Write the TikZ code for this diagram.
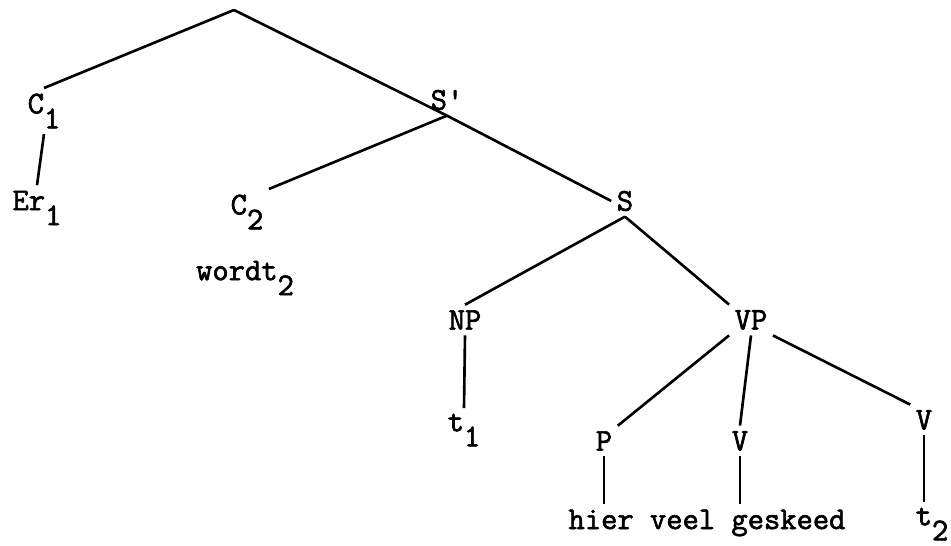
\documentclass[tikz,border=0pt]{standalone}
\usepackage{fontspec}
\usepackage{tikz}
\newfontfamily\treefont[FakeBold=2]{Latin Modern Mono}
\newcommand{\lowsub}[1]{\raisebox{-1.1ex}{#1}}
\tikzset{
  x=0.02cm,
  y=-0.02cm,
}
\tikzstyle{every node}=[font=\treefont\fontsize{18}{20}\selectfont, inner sep=3pt]
\tikzstyle{branch}=[line width=1.5pt]

\begin{document}
\begin{tikzpicture}
    \useasboundingbox (0,0) rectangle (951,546);
    \coordinate (root) at (234,10);
    \node (c1) at (44,111) {C\lowsub{1}};
    \node (er1) at (37,208) {Er\lowsub{1}};
    \node (sbar) at (447,100) {S\textquotesingle};
    \node (c2) at (247,212) {C\lowsub{2}};
    \node (wordt) at (245,278) {wordt\lowsub{2}};
    \node (s) at (625,201) {S};
    \node (np) at (465,320) {NP};
    \node (vp) at (751,320) {VP};
    \node (t1) at (464,430) {t\lowsub{1}};
    \node (p) at (604,441) {P};
    \node (vmid) at (740,441) {V};
    \node (vright) at (924,420) {V};
    \node (words) at (707,523) {hier veel geskeed};
    \node (t2) at (932,524) {t\lowsub{2}};
    \draw[branch] (root)--(c1.north);
    \draw[branch] (root)--(sbar.south);
    \draw[branch] (c1.south)--(er1.north);
    \draw[branch] (sbar.south)--(c2.north east);
    \draw[branch] (sbar.south)--(s.west);
    \draw[branch] (s.south)--(np.north);
    \draw[branch] (s.south)--(vp.north west);
    \draw[branch] (np.south)--(t1.north);
    \draw[branch] (vp.south west)--(p.north east);
    \draw[branch] (vp.south)--(vmid.north);
    \draw[branch] (vp.south east)--(vright.north west);
    \draw[branch] (p.south)--(p.south |- words.north);
    \draw[branch] (vmid.south)--(vmid.south |- words.north);
    \draw[branch] (vright.south)--(vright.south |- t2.north);
  \end{tikzpicture}
\end{document}
